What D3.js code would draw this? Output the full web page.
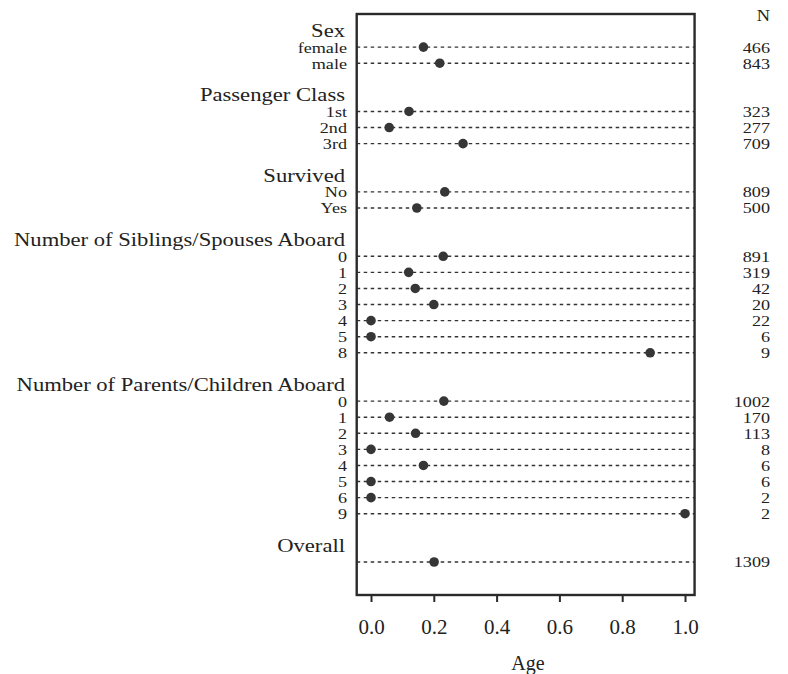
<!DOCTYPE html>
<html>
<head>
<meta charset="utf-8">
<script src="https://cdn.jsdelivr.net/npm/d3@7"></script>
<style>
  body { margin: 0; background: #fff; }
  text { font-family: "Liberation Serif", "Times New Roman", serif; fill: #222; }
</style>
</head>
<body>
<svg id="chart" width="788" height="674"></svg>
<script>
// proportion of missing Age, by variable
let groups = ['Sex', 'Passenger Class', 'Survived',
  'Number of Siblings/Spouses Aboard', 'Number of Parents/Children Aboard', 'Overall']
let levels = [
  ['female', 'male'],
  ['1st', '2nd', '3rd'],
  ['No', 'Yes'],
  ['0', '1', '2', '3', '4', '5', '8'],
  ['0', '1', '2', '3', '4', '5', '6', '9'],
  ['']
]
let values = [
  [0.167, 0.219],
  [0.121, 0.058, 0.293],
  [0.235, 0.146],
  [0.23, 0.12, 0.141, 0.2, 0, 0, 0.889],
  [0.232, 0.059, 0.142, 0, 0.167, 0, 0, 1],
  [0.201]
]
let counts = [
  [466, 843],
  [323, 277, 709],
  [809, 500],
  [891, 319, 42, 20, 22, 6, 9],
  [1002, 170, 113, 8, 6, 6, 2, 2],
  [1309]
]
let xTicks = [0, 0.2, 0.4, 0.6, 0.8, 1.0]

// flatten into rows: heading row, level rows, blank row
let heads = [], rows = []
let r = 0
groups.forEach(function (g, gi) {
  heads.push({ name: g, row: r })
  r++
  levels[gi].forEach(function (lv, li) {
    rows.push({ label: lv, value: values[gi][li], n: counts[gi][li], row: r })
    r++
  })
  r++
})

let svg = d3.select('#chart')

let x = d3.scaleLinear().domain([0, 1]).range([371, 685])
let y = d3.scaleLinear().domain([0, 33]).range([31, 562])

let frameL = x(-0.0455), frameR = x(1.0305), frameT = 14, frameB = 595

// dotted lines
svg.selectAll('.dots').data(rows).enter()
  .append('line')
    .attr('x1', frameL).attr('x2', frameR)
    .attr('y1', d => y(d.row)).attr('y2', d => y(d.row))
    .attr('stroke', '#333')
    .attr('stroke-width', 1.4)
    .attr('stroke-dasharray', '3.5,3.5')

// points
svg.selectAll('.pt').data(rows).enter()
  .append('circle')
    .attr('cx', d => x(d.value))
    .attr('cy', d => y(d.row))
    .attr('r', 4.8)
    .attr('fill', '#363636')

// frame
svg.append('rect')
  .attr('x', frameL).attr('y', frameT)
  .attr('width', frameR - frameL).attr('height', frameB - frameT)
  .attr('fill', 'none')
  .attr('stroke', '#2a2a2a')
  .attr('stroke-width', 2.4)

// group headings
svg.selectAll('.head').data(heads).enter()
  .append('text')
    .attr('transform', d => `translate(345,${y(d.row) - 1}) scale(1.16,1)`)
    .attr('dy', '0.35em')
    .attr('text-anchor', 'end')
    .style('font-size', '19.5px')
    .text(d => d.name)

// level labels
svg.selectAll('.lab').data(rows).enter()
  .append('text')
    .attr('transform', d => `translate(347,${y(d.row)}) scale(1.17,1)`)
    .attr('dy', '0.35em')
    .attr('text-anchor', 'end')
    .style('font-size', '15.5px')
    .text(d => d.label)

// N column
svg.append('text')
  .attr('transform', 'translate(770,15) scale(1.15,1)')
  .attr('dy', '0.35em')
  .attr('text-anchor', 'end')
  .style('font-size', '16px')
  .text('N')

svg.selectAll('.n').data(rows).enter()
  .append('text')
    .attr('transform', d => `translate(770,${y(d.row)}) scale(1.17,1)`)
    .attr('dy', '0.35em')
    .attr('text-anchor', 'end')
    .style('font-size', '15.5px')
    .text(d => d.n)

// x axis
let axis = svg.append('g')
  .attr('transform', `translate(0,${frameB})`)
  .call(d3.axisBottom(x).tickValues(xTicks).tickFormat(d3.format('.1f')).tickSize(7).tickPadding(17))

axis.select('.domain').remove()
axis.selectAll('line').attr('stroke', '#2a2a2a').attr('stroke-width', 2)
axis.selectAll('text')
  .style('font-family', '"Liberation Serif", serif')
  .style('font-size', '21px')
  .attr('fill', '#222')

svg.append('text')
  .attr('x', 528).attr('y', 663)
  .attr('dy', '0.35em')
  .attr('text-anchor', 'middle')
  .style('font-size', '20px')
  .text('Age')
</script>
</body>
</html>
